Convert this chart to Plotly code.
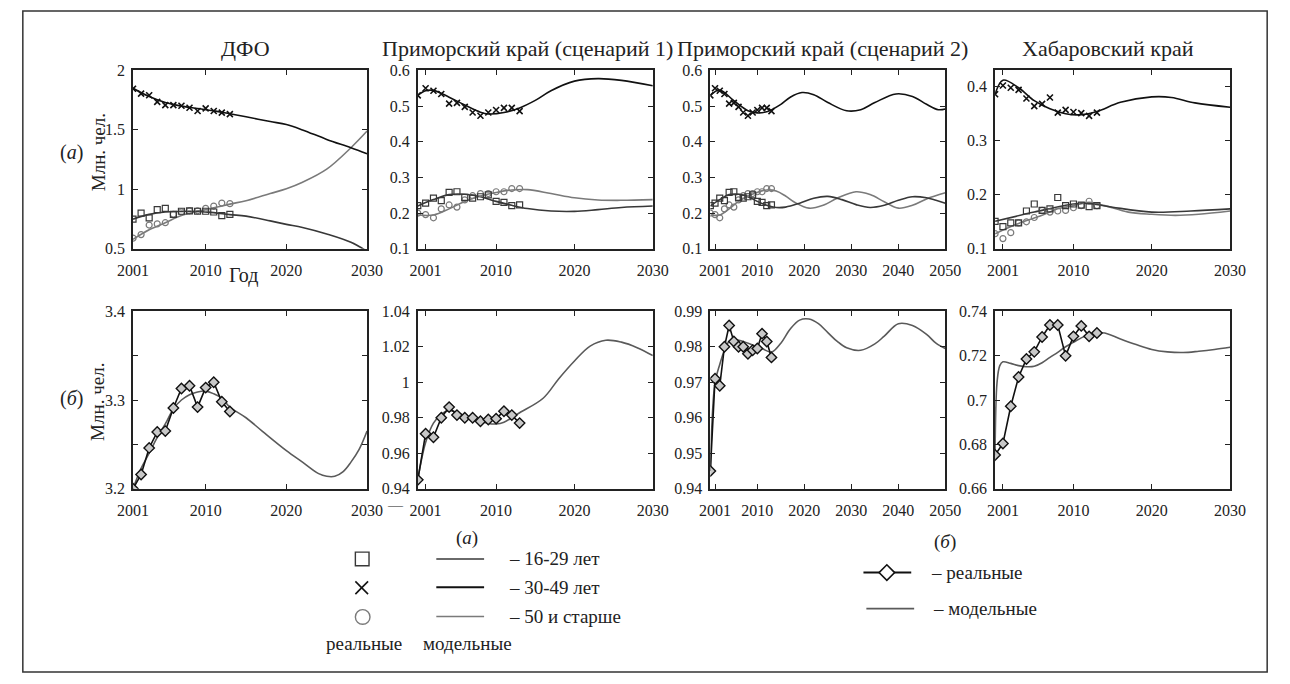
import plotly.graph_objects as go

W, H = 1290, 684
FONT = "'Liberation Serif', 'Times New Roman', 'DejaVu Serif', serif"

# ======================= DATA =======================
# ---- (a) age groups, real observations ----
dfo_years = list(range(2001, 2014))
dfo_real_16_29 = [0.75, 0.80, 0.76, 0.83, 0.84, 0.79, 0.816, 0.82, 0.816, 0.816, 0.81, 0.78, 0.79]
dfo_real_30_49 = [1.846, 1.805, 1.791, 1.736, 1.708, 1.708, 1.703, 1.686, 1.659, 1.681, 1.659, 1.645, 1.632]
dfo_real_50 = [0.59, 0.62, 0.70, 0.71, 0.72, 0.79, 0.81, 0.82, 0.82, 0.84, 0.86, 0.885, 0.88]

pk_years = list(range(2000, 2014))
pk_real_16_29 = [0.221, 0.228, 0.242, 0.235, 0.258, 0.260, 0.244, 0.242, 0.246, 0.251, 0.233, 0.230, 0.221, 0.223]
pk_real_30_49 = [0.530, 0.550, 0.543, 0.534, 0.507, 0.509, 0.498, 0.482, 0.473, 0.482, 0.489, 0.495, 0.495, 0.486]
pk_real_50 = [0.200, 0.196, 0.187, 0.212, 0.223, 0.217, 0.237, 0.249, 0.255, 0.255, 0.260, 0.260, 0.269, 0.269]

hk_years = list(range(2000, 2014))
hk_real_16_29 = [0.151, 0.141, 0.148, 0.148, 0.170, 0.183, 0.171, 0.174, 0.195, 0.180, 0.183, 0.181, 0.178, 0.180]
hk_real_30_49 = [0.386, 0.402, 0.398, 0.394, 0.378, 0.364, 0.368, 0.380, 0.352, 0.357, 0.353, 0.351, 0.346, 0.352]
hk_real_50 = [0.128, 0.119, 0.130, 0.148, 0.150, 0.158, 0.171, 0.168, 0.170, 0.171, 0.176, 0.180, 0.188, 0.180]

# ---- (a) age groups, model curves ----
dfo_model_years = [2001, 2003, 2005, 2007, 2009, 2011, 2013, 2015, 2018, 2020, 2022, 2025, 2028, 2030]
dfo_model_16_29 = [0.75, 0.79, 0.81, 0.815, 0.815, 0.805, 0.788, 0.775, 0.735, 0.706, 0.68, 0.625, 0.555, 0.48]
dfo_model_30_49 = [1.85, 1.78, 1.73, 1.70, 1.68, 1.66, 1.635, 1.61, 1.57, 1.545, 1.50, 1.42, 1.35, 1.30]
dfo_model_50 = [0.58, 0.66, 0.72, 0.78, 0.815, 0.845, 0.876, 0.905, 0.965, 1.005, 1.06, 1.17, 1.35, 1.49]

pk1_years_30_49 = [2000, 2001, 2002, 2004, 2006, 2008, 2009, 2011, 2013, 2015, 2017, 2020, 2023, 2026, 2030]
pk1_model_30_49 = [0.53, 0.543, 0.544, 0.525, 0.503, 0.483, 0.478, 0.482, 0.495, 0.516, 0.543, 0.570, 0.577, 0.572, 0.557]
pk1_years_other = [2000, 2002, 2004, 2006, 2008, 2010, 2012, 2014, 2017, 2020, 2023, 2026, 2030]
pk1_model_16_29 = [0.22, 0.238, 0.252, 0.253, 0.246, 0.233, 0.222, 0.213, 0.206, 0.205, 0.21, 0.216, 0.22]
pk1_model_50 = [0.195, 0.195, 0.212, 0.233, 0.248, 0.258, 0.265, 0.266, 0.255, 0.243, 0.237, 0.236, 0.238]

pk2_years_30_49 = [2000, 2002, 2005, 2008, 2010, 2012, 2015, 2017, 2019.5, 2022, 2025, 2029, 2032, 2035, 2039.5, 2043, 2046, 2048.5, 2050]
pk2_model_30_49 = [0.53, 0.545, 0.515, 0.487, 0.481, 0.484, 0.505, 0.525, 0.538, 0.532, 0.51, 0.487, 0.49, 0.51, 0.534, 0.527, 0.505, 0.49, 0.492]
pk2_years_16_29 = [2000, 2002, 2004, 2006, 2008, 2010, 2012, 2014, 2016, 2019, 2022, 2025, 2028, 2031, 2034, 2037, 2040, 2043, 2046, 2048, 2050]
pk2_model_16_29 = [0.22, 0.238, 0.252, 0.253, 0.246, 0.233, 0.222, 0.216, 0.217, 0.228, 0.242, 0.247, 0.238, 0.224, 0.216, 0.222, 0.236, 0.246, 0.243, 0.236, 0.228]
pk2_years_50 = [2000, 2002, 2004, 2006, 2008, 2010, 2012, 2014, 2016, 2018, 2021, 2024, 2027, 2031, 2034, 2037, 2040, 2043, 2046, 2050]
pk2_model_50 = [0.195, 0.195, 0.212, 0.233, 0.248, 0.258, 0.265, 0.262, 0.248, 0.230, 0.214, 0.222, 0.242, 0.26, 0.252, 0.232, 0.214, 0.222, 0.24, 0.257]

hk_years_30_49 = [2000, 2001, 2003, 2005, 2007, 2009, 2011, 2013, 2016, 2020, 2022.5, 2025.5, 2030]
hk_model_30_49 = [0.386, 0.412, 0.398, 0.374, 0.359, 0.350, 0.348, 0.354, 0.371, 0.381, 0.380, 0.370, 0.362]
hk_years_16_29 = [2000, 2005, 2010, 2012, 2015, 2020, 2025, 2030]
hk_model_16_29 = [0.151, 0.168, 0.183, 0.184, 0.177, 0.168, 0.170, 0.174]
hk_years_50 = [2000, 2003, 2006, 2008, 2010, 2012, 2014, 2017, 2020, 2023, 2026, 2030]
hk_model_50 = [0.128, 0.147, 0.162, 0.174, 0.180, 0.186, 0.180, 0.168, 0.164, 0.162, 0.164, 0.170]

# ---- (б) total population ----
dfo_tot_real = [3.200, 3.216, 3.246, 3.264, 3.265, 3.291, 3.313, 3.316, 3.292, 3.314, 3.320, 3.298, 3.287]
dfo_tot_model_years = [2001, 2002, 2003, 2004, 2005, 2006, 2007, 2008, 2009, 2010, 2011, 2012, 2013,
                       2015, 2017, 2020, 2022, 2024, 2025, 2026, 2027, 2028, 2029, 2030]
dfo_tot_model = [3.200, 3.223, 3.240, 3.258, 3.273, 3.290, 3.300, 3.306, 3.309, 3.310, 3.307, 3.302, 3.292,
                 3.280, 3.265, 3.243, 3.230, 3.217, 3.214, 3.214, 3.219, 3.230, 3.244, 3.265]

pk_tot_real = [0.945, 0.971, 0.969, 0.980, 0.986, 0.9815, 0.980, 0.980, 0.978, 0.979, 0.9795, 0.9837, 0.9815, 0.977]
pk1_tot_model_years = [2000, 2001, 2002, 2003, 2004, 2005, 2006, 2008, 2009, 2010, 2011, 2012, 2013,
                       2016, 2018, 2020, 2022, 2024, 2026, 2028, 2030]
pk1_tot_model = [0.945, 0.966, 0.977, 0.982, 0.984, 0.983, 0.981, 0.978, 0.9768, 0.9765, 0.9775, 0.980, 0.9828,
                 0.991, 1.002, 1.012, 1.0204, 1.0237, 1.0226, 1.0195, 1.015]
pk2_tot_model_years = [2000, 2001, 2002, 2003, 2004, 2005, 2007, 2009, 2011, 2013, 2015, 2017, 2019, 2021,
                       2023, 2025, 2027, 2029, 2032, 2035, 2037, 2040, 2043, 2046, 2048, 2050]
pk2_tot_model = [0.945, 0.970, 0.975, 0.979, 0.9815, 0.982, 0.9815, 0.9805, 0.9795, 0.9785, 0.981, 0.985,
                 0.9875, 0.9878, 0.9865, 0.984, 0.9815, 0.9797, 0.979, 0.9808, 0.983, 0.9865, 0.986, 0.9835,
                 0.981, 0.9795]

hk_tot_real = [0.6752, 0.6804, 0.6972, 0.7104, 0.7185, 0.7217, 0.7284, 0.7338, 0.7338, 0.7199, 0.7287,
               0.7334, 0.7287, 0.7302]
hk_tot_model_years = [2000, 2000.25, 2000.6, 2001, 2002, 2003, 2004, 2005, 2006, 2007, 2008, 2009, 2010,
                      2011, 2012, 2013, 2014, 2016, 2018, 2020, 2022, 2024, 2026, 2028, 2030]
hk_tot_model = [0.676, 0.708, 0.7155, 0.7172, 0.7165, 0.7155, 0.715, 0.7152, 0.7168, 0.7192, 0.7215, 0.724,
                0.726, 0.728, 0.7295, 0.7302, 0.7302, 0.7275, 0.725, 0.7228, 0.7217, 0.7214, 0.722, 0.7228,
                0.7238]

titles = ["ДФО", "Приморский край (сценарий 1)", "Приморский край (сценарий 2)", "Хабаровский край"]
age_labels = ["– 16-29 лет", "– 30-49 лет", "– 50 и старше"]

# ======================= STYLE / LAYOUT =======================
C_16 = "#383838"
C_30 = "#111111"
C_50 = "#7a7a7a"
C_MODEL = "#5a5a5a"
AX = "#222222"
TXT = "#222222"

col_px = [(120, 360), (412, 653), (712, 953), (1004, 1245)]
row_px = [(64, 247), (311, 493)]


def px(x):
    return x / W


def py(y):
    return 1 - y / H


fig = go.Figure()


def ax_ids(i):
    s = "" if i == 0 else str(i + 1)
    return "x" + s, "y" + s


def line(i, x, y, color, width=1.6):
    xa, ya = ax_ids(i)
    fig.add_trace(go.Scatter(x=x, y=y, mode="lines", xaxis=xa, yaxis=ya,
                             line=dict(color=color, width=width, shape="spline", smoothing=1.0),
                             showlegend=False, hoverinfo="skip"))


def pts(i, x, y, symbol, color, size=6, lw=1.2):
    xa, ya = ax_ids(i)
    fig.add_trace(go.Scatter(x=x, y=y, mode="markers", xaxis=xa, yaxis=ya,
                             marker=dict(symbol=symbol, size=size, color=color,
                                         line=dict(color=color, width=lw)),
                             showlegend=False, hoverinfo="skip"))


def real_line(i, x, y):
    xa, ya = ax_ids(i)
    fig.add_trace(go.Scatter(x=x, y=y, mode="lines+markers", xaxis=xa, yaxis=ya,
                             line=dict(color="#111111", width=1.6),
                             marker=dict(symbol="diamond", size=8, color="#c8c8c8",
                                         line=dict(color="#111111", width=1.4)),
                             showlegend=False, hoverinfo="skip"))


# ---- row 1 ----
groups = [
    (0, dfo_model_years, dfo_model_16_29, dfo_model_years, dfo_model_30_49, dfo_model_years, dfo_model_50,
     dfo_years, dfo_real_16_29, dfo_real_30_49, dfo_real_50),
    (1, pk1_years_other, pk1_model_16_29, pk1_years_30_49, pk1_model_30_49, pk1_years_other, pk1_model_50,
     pk_years, pk_real_16_29, pk_real_30_49, pk_real_50),
    (2, pk2_years_16_29, pk2_model_16_29, pk2_years_30_49, pk2_model_30_49, pk2_years_50, pk2_model_50,
     pk_years, pk_real_16_29, pk_real_30_49, pk_real_50),
    (3, hk_years_16_29, hk_model_16_29, hk_years_30_49, hk_model_30_49, hk_years_50, hk_model_50,
     hk_years, hk_real_16_29, hk_real_30_49, hk_real_50),
]
for (i, x16, m16, x30, m30, x50, m50, ry, r16, r30, r50) in groups:
    line(i, x50, m50, C_50)
    line(i, x16, m16, C_16)
    line(i, x30, m30, C_30)
    pts(i, ry, r50, "circle-open", C_50, size=6, lw=1.2)
    pts(i, ry, r16, "square-open", C_16, size=6, lw=1.2)
    pts(i, ry, r30, "x-thin-open", C_30, size=6, lw=1.6)

# ---- row 2 ----
line(4, dfo_tot_model_years, dfo_tot_model, C_MODEL)
real_line(4, dfo_years, dfo_tot_real)
line(5, pk1_tot_model_years, pk1_tot_model, C_MODEL)
real_line(5, pk_years, pk_tot_real)
line(6, pk2_tot_model_years, pk2_tot_model, C_MODEL)
real_line(6, pk_years, pk_tot_real)
line(7, hk_tot_model_years, hk_tot_model, C_MODEL)
real_line(7, hk_years, hk_tot_real)

# ---- axes ----
xt30 = [2001, 2010, 2020, 2030]
xt50 = [2001, 2010, 2020, 2030, 2040, 2050]
specs = [
    ([2001, 2030], xt30, [0.5, 2], [0.5, 1, 1.5, 2], ["0.5", "1", "1.5", "2"]),
    ([2000, 2030], xt30, [0.1, 0.6], [0.1, 0.2, 0.3, 0.4, 0.5, 0.6], ["0.1", "0.2", "0.3", "0.4", "0.5", "0.6"]),
    ([2000, 2050], xt50, [0.1, 0.6], [0.1, 0.2, 0.3, 0.4, 0.5, 0.6], ["0.1", "0.2", "0.3", "0.4", "0.5", "0.6"]),
    ([2000, 2030], xt30, [0.1, 0.43], [0.1, 0.2, 0.3, 0.4], ["0.1", "0.2", "0.3", "0.4"]),
    ([2001, 2030], xt30, [3.2, 3.4], [3.2, 3.25, 3.3, 3.35, 3.4], ["3.2", "", "3.3", "", "3.4"]),
    ([2000, 2030], xt30, [0.94, 1.04], [0.94, 0.96, 0.98, 1.0, 1.02, 1.04], ["0.94", "0.96", "0.98", "1", "1.02", "1.04"]),
    ([2000, 2050], xt50, [0.94, 0.99], [0.94, 0.95, 0.96, 0.97, 0.98, 0.99], ["0.94", "0.95", "0.96", "0.97", "0.98", "0.99"]),
    ([2000, 2030], xt30, [0.66, 0.74], [0.66, 0.68, 0.70, 0.72, 0.74], ["0.66", "0.68", "0.7", "0.72", "0.74"]),
]

tickfont = dict(family=FONT, size=16, color=TXT)
common = dict(showline=True, linecolor=AX, linewidth=1.8, mirror="allticks", ticks="inside",
              ticklen=5, tickwidth=1.4, tickcolor=AX, showgrid=False, zeroline=False,
              tickfont=tickfont, fixedrange=True)

layout_axes = {}
for i, (xr, xt, yr, yt, ytt) in enumerate(specs):
    r, c = divmod(i, 4)
    x0, x1 = col_px[c]
    y0, y1 = row_px[r]
    s = "" if i == 0 else str(i + 1)
    layout_axes["xaxis" + s] = dict(common, domain=[px(x0), px(x1)], range=xr, tickvals=xt,
                                    ticktext=[str(v) for v in xt], anchor="y" + s, ticklabelstandoff=6)
    layout_axes["yaxis" + s] = dict(common, domain=[py(y1), py(y0)], range=yr, tickvals=yt,
                                    ticktext=ytt, anchor="x" + s, ticklabelstandoff=3)

annotations = []


def text(t, x, y, size=19, xanchor="center", angle=0):
    annotations.append(dict(text=t, x=px(x), y=py(y), xref="paper", yref="paper", showarrow=False,
                            xanchor=xanchor, yanchor="middle", textangle=angle,
                            font=dict(family=FONT, size=size, color=TXT)))


title_x = [235, 524, 827, 1120]
for t, xc in zip(titles, title_x):
    text(t, xc, 42, size=22)

text("Год", 233, 274, size=20)
text("Млн. чел.", 84, 148, size=19, angle=-90)
text("Млн. чел.", 84, 404, size=19, angle=-90)
text("(<i>а</i>)", 57, 148, size=20)
text("(<i>б</i>)", 57, 400, size=20)
text("—", 389, 510, size=15)

# ---- legend (a) ----
shapes = []
text("(<i>а</i>)", 462, 543, size=19)
legend_rows_y = [565, 594, 624]
legend_colors = [C_16, C_30, C_50]
legend_widths = [1.6, 2.2, 1.6]
shapes.append(dict(type="rect", xref="paper", yref="paper", x0=px(348), x1=px(362), y0=py(572), y1=py(558),
                   line=dict(color=C_16, width=1.4)))
shapes.append(dict(type="line", xref="paper", yref="paper", x0=px(348), x1=px(361), y0=py(588), y1=py(601),
                   line=dict(color=C_30, width=1.6)))
shapes.append(dict(type="line", xref="paper", yref="paper", x0=px(348), x1=px(361), y0=py(601), y1=py(588),
                   line=dict(color=C_30, width=1.6)))
shapes.append(dict(type="circle", xref="paper", yref="paper", x0=px(348), x1=px(363), y0=py(632), y1=py(617),
                   line=dict(color=C_50, width=1.4)))
for yy, cc, ww, lab in zip(legend_rows_y, legend_colors, legend_widths, age_labels):
    shapes.append(dict(type="line", xref="paper", yref="paper", x0=px(431), x1=px(480), y0=py(yy), y1=py(yy),
                       line=dict(color=cc, width=ww)))
    text(lab, 503, yy, size=19, xanchor="left")
text("реальные", 357, 652, size=19)
text("модельные", 463, 652, size=19)

# ---- legend (б) ----
text("(<i>б</i>)", 953, 548, size=19)
shapes.append(dict(type="line", xref="paper", yref="paper", x0=px(869), x1=px(918), y0=py(579), y1=py(579),
                   line=dict(color="#111111", width=2)))
dx, dy = 8, 8
cx, cy = 893, 579
shapes.append(dict(type="path", xref="paper", yref="paper",
                   path=f"M {px(cx - dx)},{py(cy)} L {px(cx)},{py(cy - dy)} L {px(cx + dx)},{py(cy)} "
                        f"L {px(cx)},{py(cy + dy)} Z",
                   fillcolor="white", line=dict(color="#111111", width=1.6)))
text("– реальные", 936, 579, size=19, xanchor="left")
shapes.append(dict(type="line", xref="paper", yref="paper", x0=px(872), x1=px(921), y0=py(616), y1=py(616),
                   line=dict(color=C_MODEL, width=1.8)))
text("– модельные", 938, 616, size=19, xanchor="left")

# outer frame
shapes.append(dict(type="rect", xref="paper", yref="paper", x0=px(7), x1=px(1283), y0=py(681), y1=py(3),
                   line=dict(color="#333333", width=1.5), layer="below"))

fig.update_layout(width=W, height=H, margin=dict(l=0, r=0, t=0, b=0),
                  paper_bgcolor="white", plot_bgcolor="white",
                  font=dict(family=FONT, color=TXT),
                  annotations=annotations, shapes=shapes, showlegend=False, **layout_axes)

fig.write_html("out.html", config={"displayModeBar": False},
               post_script="document.body.style.margin='0';document.body.style.overflow='hidden';")
